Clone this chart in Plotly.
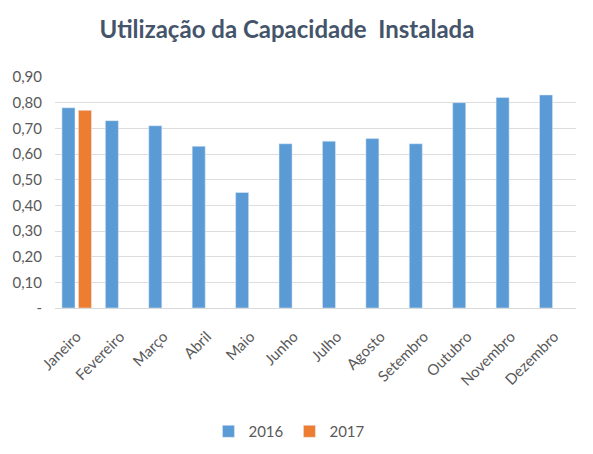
import plotly.graph_objects as go

months = ["Janeiro", "Fevereiro", "Março", "Abril", "Maio", "Junho", "Julho",
          "Agosto", "Setembro", "Outubro", "Novembro", "Dezembro"]
v2016 = [0.78, 0.73, 0.71, 0.63, 0.45, 0.64, 0.65, 0.66, 0.64, 0.80, 0.82, 0.83]
v2017 = [0.77, None, None, None, None, None, None, None, None, None, None, None]
tick_vals = [0, 0.1, 0.2, 0.3, 0.4, 0.5, 0.6, 0.7, 0.8, 0.9]
tick_text = ["-", "0,10", "0,20", "0,30", "0,40", "0,50", "0,60", "0,70", "0,80", "0,90"]

font = "Lato, sans-serif"
gray = "#595959"

W, H = 585, 446  # page body has an 8px margin

fig = go.Figure()
fig.add_trace(go.Bar(x=months, y=v2016, name="2016", marker=dict(color="#5B9BD5")))
fig.add_trace(go.Bar(x=months, y=v2017, name="2017", marker=dict(color="#ED7D31")))

fig.update_layout(
    width=W, height=H,
    margin=dict(l=47, r=17, t=69, b=146, autoexpand=False),
    paper_bgcolor="white", plot_bgcolor="white",
    barmode="group", bargap=0.24, bargroupgap=0.21,
    title=dict(text="<b>Utilização da Capacidade  Instalada</b>",
               x=(287 - 8) / W, xanchor="center",
               y=1 - (30 - 8) / H, yanchor="middle",
               font=dict(family=font, size=24, color="#44546A")),
    font=dict(family=font, size=14, color=gray),
    xaxis=dict(tickangle=-45, showgrid=False, showline=True, linecolor="#D9D9D9",
               automargin=False, ticks="", ticklabelstandoff=13,
               tickfont=dict(family=font, size=15, color=gray)),
    yaxis=dict(range=[0, 0.9], tickvals=tick_vals, ticktext=tick_text, automargin=False,
               showgrid=True, gridcolor="#DDDDDD", gridwidth=1, zeroline=False,
               tickfont=dict(family=font, size=15, color=gray), ticklabelstandoff=12),
    legend=dict(orientation="h", x=0.45, xanchor="center", y=-0.535, yanchor="middle",
                font=dict(family=font, size=15, color=gray), itemwidth=30,
                entrywidth=36, entrywidthmode="pixels"),
    showlegend=True,
)

fig.write_html("out.html")
